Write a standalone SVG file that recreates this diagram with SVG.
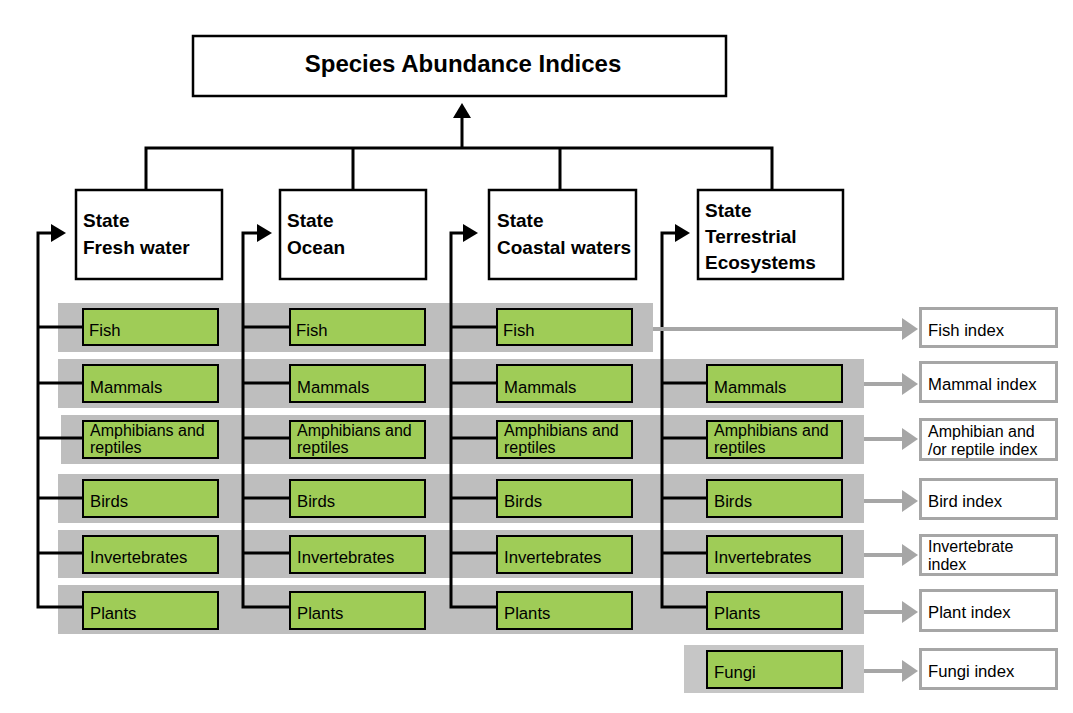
<svg xmlns="http://www.w3.org/2000/svg" width="1073" height="713" viewBox="0 0 1073 713">
<style>
.bg{fill:#fff}
.band{fill:#bebebe}
.band2{fill:#c6c6c6}
.state{fill:#fff;stroke:#000;stroke-width:2.5}
.title{fill:#fff;stroke:#000;stroke-width:2.5}
.sp{fill:#9fcc57;stroke:#000;stroke-width:2}
.idx{fill:#fff;stroke:#a6a6a6;stroke-width:3}
.t{font-family:"Liberation Sans",Arial,sans-serif;font-size:16.7px;fill:#000}
.t2{font-family:"Liberation Sans",Arial,sans-serif;font-size:16px;fill:#000}
.tb{font-family:"Liberation Sans",Arial,sans-serif;font-size:19px;font-weight:bold;fill:#000}
.tt{font-family:"Liberation Sans",Arial,sans-serif;font-size:24px;font-weight:bold;fill:#000;text-anchor:middle}
.ln{fill:none;stroke:#000;stroke-width:3}
.gl{fill:none;stroke:#a6a6a6;stroke-width:4}
.ah{fill:#000}
.gah{fill:#a6a6a6}
</style>
<rect class="bg" x="0" y="0" width="1073" height="713"/>
<g id="bands">
<rect class="band" x="58" y="303" width="595" height="49"/>
<rect class="band" x="58" y="359" width="806" height="49"/>
<rect class="band" x="61" y="415" width="803" height="49"/>
<rect class="band" x="58" y="474" width="806" height="49"/>
<rect class="band" x="58" y="530" width="806" height="48"/>
<rect class="band" x="58" y="585" width="806" height="49"/>
<rect class="band2" x="684" y="645" width="180" height="48"/>
</g>
<g id="connectors">
<path class="ln" d="M146 189 V148 H772 V189 M353 148 V189 M560 148 V189 M462 148 V115"/>
<polygon class="ah" points="462,103 453,118 471,118"/>
<path class="ln" d="M82 607 H38 V233 H52 M38 327 H82 M38 383 H82 M38 438 H82 M38 498 H82 M38 553 H82"/>
<polygon class="ah" points="66,233 51,224 51,242"/>
<path class="ln" d="M289 607 H243 V233 H257 M243 327 H289 M243 383 H289 M243 438 H289 M243 498 H289 M243 553 H289"/>
<polygon class="ah" points="272,233 257,224 257,242"/>
<path class="ln" d="M496 607 H451 V233 H463 M451 327 H496 M451 383 H496 M451 438 H496 M451 498 H496 M451 553 H496"/>
<polygon class="ah" points="478,233 463,224 463,242"/>
<path class="ln" d="M707 607 H662 V233 H675 M662 383 H707 M662 438 H707 M662 498 H707 M662 553 H707"/>
<polygon class="ah" points="690,233 675,224 675,242"/>
<path class="gl" d="M653 329 H903 M864 384 H903 M864 439 H903 M864 501 H903 M864 555 H903 M864 612 H903 M864 671 H903"/>
<polygon class="gah" points="918,329 902,318 902,340"/>
<polygon class="gah" points="918,384 902,373 902,395"/>
<polygon class="gah" points="918,439 902,428 902,450"/>
<polygon class="gah" points="918,501 902,490 902,512"/>
<polygon class="gah" points="918,555 902,544 902,566"/>
<polygon class="gah" points="918,612 902,601 902,623"/>
<polygon class="gah" points="918,671 902,660 902,682"/>
</g>
<g id="title"><rect class="title" x="193" y="36" width="533" height="60"/><text class="tt" x="463" y="72">Species Abundance Indices</text></g>
<g id="state-fresh"><rect class="state" x="76" y="190" width="146" height="89"/><text class="tb" x="83" y="227">State</text><text class="tb" x="83" y="254">Fresh water</text></g>
<g id="state-ocean"><rect class="state" x="280" y="190" width="146" height="89"/><text class="tb" x="287" y="227">State</text><text class="tb" x="287" y="254">Ocean</text></g>
<g id="state-coastal"><rect class="state" x="489" y="190" width="147" height="89"/><text class="tb" x="497" y="227">State</text><text class="tb" x="497" y="254">Coastal waters</text></g>
<g id="state-terrestrial"><rect class="state" x="698" y="190" width="145" height="89"/><text class="tb" x="705" y="217">State</text><text class="tb" x="705" y="243">Terrestrial</text><text class="tb" x="705" y="269">Ecosystems</text></g>
<g id="c1-fish"><rect class="sp" x="83" y="309" width="135" height="36"/><text class="t" x="89" y="336">Fish</text></g>
<g id="c1-mammals"><rect class="sp" x="83" y="365" width="135" height="37"/><text class="t" x="90" y="393">Mammals</text></g>
<g id="c1-amph"><rect class="sp" x="83" y="421" width="135" height="37"/><text class="t2" x="90" y="436">Amphibians and</text><text class="t2" x="90" y="453">reptiles</text></g>
<g id="c1-birds"><rect class="sp" x="83" y="480" width="135" height="37"/><text class="t" x="90" y="507">Birds</text></g>
<g id="c1-invert"><rect class="sp" x="83" y="536" width="135" height="37"/><text class="t" x="90" y="563">Invertebrates</text></g>
<g id="c1-plants"><rect class="sp" x="83" y="592" width="135" height="37"/><text class="t" x="90" y="619">Plants</text></g>
<g id="c2-fish"><rect class="sp" x="290" y="309" width="135" height="36"/><text class="t" x="296" y="336">Fish</text></g>
<g id="c2-mammals"><rect class="sp" x="290" y="365" width="135" height="37"/><text class="t" x="297" y="393">Mammals</text></g>
<g id="c2-amph"><rect class="sp" x="290" y="421" width="135" height="37"/><text class="t2" x="297" y="436">Amphibians and</text><text class="t2" x="297" y="453">reptiles</text></g>
<g id="c2-birds"><rect class="sp" x="290" y="480" width="135" height="37"/><text class="t" x="297" y="507">Birds</text></g>
<g id="c2-invert"><rect class="sp" x="290" y="536" width="135" height="37"/><text class="t" x="297" y="563">Invertebrates</text></g>
<g id="c2-plants"><rect class="sp" x="290" y="592" width="135" height="37"/><text class="t" x="297" y="619">Plants</text></g>
<g id="c3-fish"><rect class="sp" x="497" y="309" width="135" height="36"/><text class="t" x="503" y="336">Fish</text></g>
<g id="c3-mammals"><rect class="sp" x="497" y="365" width="135" height="37"/><text class="t" x="504" y="393">Mammals</text></g>
<g id="c3-amph"><rect class="sp" x="497" y="421" width="135" height="37"/><text class="t2" x="504" y="436">Amphibians and</text><text class="t2" x="504" y="453">reptiles</text></g>
<g id="c3-birds"><rect class="sp" x="497" y="480" width="135" height="37"/><text class="t" x="504" y="507">Birds</text></g>
<g id="c3-invert"><rect class="sp" x="497" y="536" width="135" height="37"/><text class="t" x="504" y="563">Invertebrates</text></g>
<g id="c3-plants"><rect class="sp" x="497" y="592" width="135" height="37"/><text class="t" x="504" y="619">Plants</text></g>
<g id="c4-mammals"><rect class="sp" x="707" y="365" width="135" height="37"/><text class="t" x="714" y="393">Mammals</text></g>
<g id="c4-amph"><rect class="sp" x="707" y="421" width="135" height="37"/><text class="t2" x="714" y="436">Amphibians and</text><text class="t2" x="714" y="453">reptiles</text></g>
<g id="c4-birds"><rect class="sp" x="707" y="480" width="135" height="37"/><text class="t" x="714" y="507">Birds</text></g>
<g id="c4-invert"><rect class="sp" x="707" y="536" width="135" height="37"/><text class="t" x="714" y="563">Invertebrates</text></g>
<g id="c4-plants"><rect class="sp" x="707" y="592" width="135" height="37"/><text class="t" x="714" y="619">Plants</text></g>
<g id="c4-fungi"><rect class="sp" x="707" y="651" width="135" height="37"/><text class="t" x="714" y="678">Fungi</text></g>
<g id="idx-fish"><rect class="idx" x="920.5" y="308.5" width="136" height="38"/><text class="t" x="928" y="336">Fish index</text></g>
<g id="idx-mammal"><rect class="idx" x="920.5" y="362.5" width="136" height="39"/><text class="t" x="928" y="390">Mammal index</text></g>
<g id="idx-amph"><rect class="idx" x="920.5" y="419.5" width="136" height="40"/><text class="t2" x="928" y="437">Amphibian and</text><text class="t2" x="928" y="455">/or reptile index</text></g>
<g id="idx-bird"><rect class="idx" x="920.5" y="479.5" width="136" height="39"/><text class="t" x="928" y="507">Bird index</text></g>
<g id="idx-invert"><rect class="idx" x="920.5" y="535.5" width="136" height="39"/><text class="t2" x="928" y="552">Invertebrate</text><text class="t2" x="928" y="570">index</text></g>
<g id="idx-plant"><rect class="idx" x="920.5" y="590.5" width="136" height="40"/><text class="t" x="928" y="618">Plant index</text></g>
<g id="idx-fungi"><rect class="idx" x="920.5" y="649.5" width="136" height="39"/><text class="t" x="928" y="677">Fungi index</text></g>
</svg>
